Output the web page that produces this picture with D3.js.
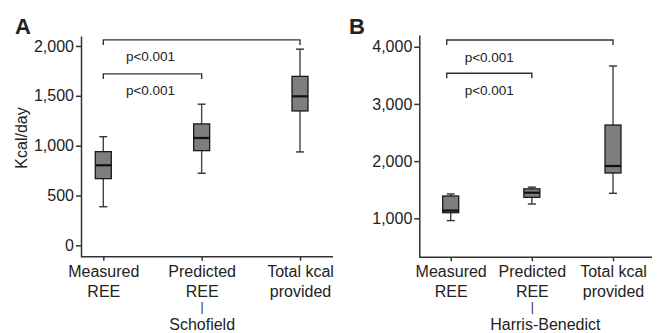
<!DOCTYPE html>
<html lang="en">
<head>
    <meta charset="UTF-8">
    <title>Kcal/day</title>
    <script src="https://d3js.org/d3.v7.min.js"></script>
    <style>
        body { margin: 0; background: #fff; }
        svg text { font-family: "Liberation Sans", Arial, Helvetica, sans-serif; fill: #222; }
    </style>
</head>
<body>
    <div class="canvas"></div>
    <script>
      // categories / tick labels
      const categories = ['Measured REE', 'Predicted REE', 'Total kcal provided'];
      const xLinesA = [['Measured', 'REE'], ['Predicted', 'REE', '|', 'Schofield'], ['Total kcal', 'provided']];
      const xLinesB = [['Measured', 'REE'], ['Predicted', 'REE', '|', 'Harris-Benedict'], ['Total kcal', 'provided']];
      const yTicksA = [0, 500, 1000, 1500, 2000];
      const yTicksB = [1000, 2000, 3000, 4000];

      // panel A (Schofield) box stats
      const minA = [387, 723, 937];
      const q1A = [669, 950, 1348];
      const medA = [803, 1077, 1495];
      const q3A = [940, 1218, 1695];
      const maxA = [1090, 1416, 1968];

      // panel B (Harris-Benedict) box stats
      const minB = [960, 1250, 1437];
      const q1B = [1098, 1367, 1792];
      const medB = [1135, 1448, 1914];
      const q3B = [1390, 1515, 2631];
      const maxB = [1425, 1545, 3663];

      // significance brackets: [from, to, height in kcal]
      const pLabels = ['p<0.001', 'p<0.001'];
      const bracketsA = [[0, 2, 2061], [0, 1, 1720]];
      const bracketsB = [[0, 2, 4117], [0, 1, 3535]];

      const width = 661, height = 333;
      const svg = d3.select('.canvas').append('svg')
                    .attr('width', width)
                    .attr('height', height);

      function drawPanel(o) {
        const g = svg.append('g');

        const x = d3.scalePoint().domain(categories).range(o.xr);
        const y = d3.scaleLinear().domain(o.yd).range(o.yr);

        // y axis
        const yAxis = d3.axisLeft(y)
                        .tickValues(o.yTicks)
                        .tickFormat(d3.format(','))
                        .tickSize(5)
                        .tickPadding(2)
                        .tickSizeOuter(0);
        const yG = g.append('g').attr('transform', `translate(${o.x0},0)`).call(yAxis);
        yG.selectAll('text').style('font-size', '16px').attr('fill', '#222');
        yG.selectAll('line, path').attr('stroke', '#333').attr('stroke-width', 1.5);

        // x axis
        const xAxis = d3.axisBottom(x).tickSize(4).tickFormat('');
        const xG = g.append('g').attr('transform', `translate(0,${o.yr[0]})`).call(xAxis);
        xG.select('.domain').remove();
        xG.append('line').attr('x1', o.x0).attr('x2', o.x1)
          .attr('stroke', '#333').attr('stroke-width', 1.5);
        xG.selectAll('line').attr('stroke', '#333').attr('stroke-width', 1.5);

        xG.selectAll('.tick').each(function(d, i) {
          const t = d3.select(this).append('text')
                      .attr('text-anchor', 'middle')
                      .style('font-size', '16px')
                      .attr('fill', '#222');
          const lines = o.xLines[i];
          const ys = [20, 40, 54, 73];
          lines.forEach((s, k) => {
            t.append('tspan')
              .attr('x', k === 3 ? o.lastDx : 0)
              .attr('y', ys[k])
              .style('font-size', k === 2 ? '12px' : '16px')
              .text(s);
          });
        });

        // boxes
        const bw = 16, cw = 8;
        const rows = categories.map((c, i) => ({
          c, min: o.min[i], q1: o.q1[i], med: o.med[i], q3: o.q3[i], max: o.max[i]
        }));
        const box = g.selectAll('.box').data(rows).enter().append('g').attr('class', 'box');

        box.append('line')
          .attr('x1', d => x(d.c)).attr('x2', d => x(d.c))
          .attr('y1', d => y(d.max)).attr('y2', d => y(d.min))
          .attr('stroke', '#444').attr('stroke-width', 1.4);
        ['min', 'max'].forEach(k => {
          box.append('line')
            .attr('x1', d => x(d.c) - cw / 2).attr('x2', d => x(d.c) + cw / 2)
            .attr('y1', d => y(d[k])).attr('y2', d => y(d[k]))
            .attr('stroke', '#333').attr('stroke-width', 1.4);
        });
        box.append('rect')
          .attr('x', d => x(d.c) - bw / 2)
          .attr('width', bw)
          .attr('y', d => y(d.q3))
          .attr('height', d => y(d.q1) - y(d.q3))
          .attr('fill', '#7e7e7e')
          .attr('stroke', '#1a1a1a')
          .attr('stroke-width', 1.3);
        box.append('line')
          .attr('x1', d => x(d.c) - bw / 2).attr('x2', d => x(d.c) + bw / 2)
          .attr('y1', d => y(d.med)).attr('y2', d => y(d.med))
          .attr('stroke', '#111').attr('stroke-width', 2.2);

        // brackets
        o.brackets.forEach((b, i) => {
          const xa = x(categories[b[0]]) + o.bdx, xb = x(categories[b[1]]);
          const yy = y(b[2]);
          g.append('path')
            .attr('d', `M${xa},${yy + 5}V${yy}H${xb}V${yy + 5}`)
            .attr('fill', 'none')
            .attr('stroke', '#333')
            .attr('stroke-width', 1.4);
        });
        const lb = o.brackets[1];
        const lx = (x(categories[lb[0]]) + x(categories[lb[1]])) / 2 - 2;
        o.brackets.forEach((b, i) => {
          g.append('text')
            .attr('x', lx)
            .attr('y', y(b[2]) + 21.5)
            .attr('text-anchor', 'middle')
            .style('font-size', '13.5px')
            .text(pLabels[i]);
        });

        // panel letter
        g.append('text')
          .attr('x', o.letterX).attr('y', 34)
          .style('font-size', '22px').style('font-weight', 'bold')
          .attr('fill', '#111')
          .text(o.letter);
      }

      drawPanel({
        letter: 'A', letterX: 15,
        x0: 81, x1: 333, xr: [103.3, 300],
        yd: [-114, 2100], yr: [256.7, 36], yTicks: yTicksA,
        xLines: xLinesA, lastDx: 0, bdx: 0,
        min: minA, q1: q1A, med: medA, q3: q3A, max: maxA,
        brackets: bracketsA
      });

      drawPanel({
        letter: 'B', letterX: 349,
        x0: 419.3, x1: 652, xr: [450.7, 613],
        yd: [318, 4205], yr: [257.3, 35], yTicks: yTicksB,
        xLines: xLinesB, lastDx: 13, bdx: -4,
        min: minB, q1: q1B, med: medB, q3: q3B, max: maxB,
        brackets: bracketsB
      });

      // y axis title (panel A only)
      svg.append('text')
        .attr('transform', 'translate(27,138) rotate(-90)')
        .attr('text-anchor', 'middle')
        .style('font-size', '16px')
        .text('Kcal/day');
    </script>
</body>
</html>
